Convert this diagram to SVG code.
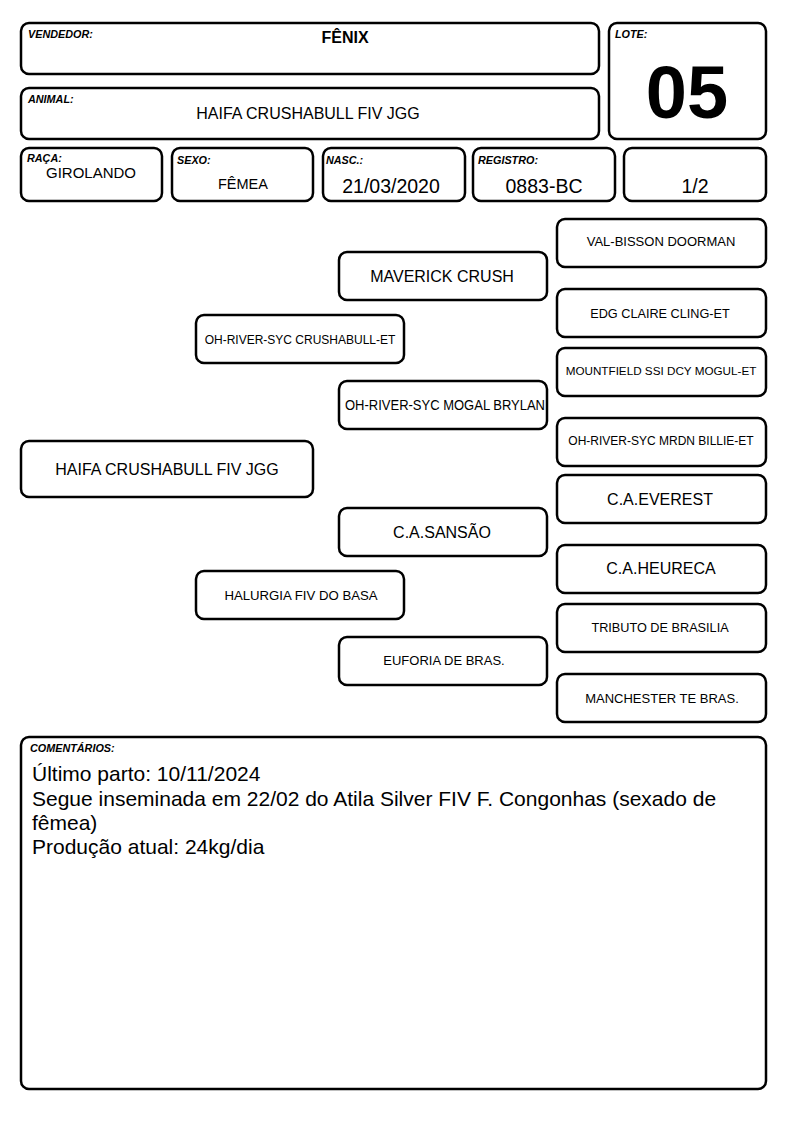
<svg xmlns="http://www.w3.org/2000/svg" width="794" height="1123" viewBox="0 0 794 1123">
<style>
.b{fill:#fff;stroke:#000;stroke-width:2.5}
.lbl{font-family:"Liberation Sans",Arial,sans-serif;font-weight:bold;font-style:italic;font-size:10.8px;fill:#000}
.t{font-family:"Liberation Sans",Arial,sans-serif;fill:#000;text-anchor:middle}
.s12{font-size:12px}.s13{font-size:13px}.s16{font-size:16px}.s19{font-size:19.5px}
.c{font-family:"Liberation Sans",Arial,sans-serif;font-size:21px;fill:#000}
</style>
<rect width="794" height="1123" fill="#fff"/>
<g id="vendedor"><rect class="b" x="21" y="23" width="578" height="51" rx="8"/><text class="lbl" x="28" y="38">VENDEDOR:</text><text class="t" x="345" y="43" font-size="16" font-weight="bold">FÊNIX</text></g>
<g id="animal"><rect class="b" x="21" y="88" width="578" height="51" rx="8"/><text class="lbl" x="28" y="103">ANIMAL:</text><text class="t s16" x="308" y="119">HAIFA CRUSHABULL FIV JGG</text></g>
<g id="lote"><rect class="b" x="609" y="23" width="157" height="116" rx="8"/><text class="lbl" x="615" y="38">LOTE:</text><text class="t" x="687" y="118" font-size="74" font-weight="bold">05</text></g>
<g id="raca"><rect class="b" x="21" y="148" width="141" height="53" rx="8"/><text class="lbl" x="27" y="162">RAÇA:</text><text class="t" x="91" y="178" font-size="15">GIROLANDO</text></g>
<g id="sexo"><rect class="b" x="172" y="148" width="141" height="53" rx="8"/><text class="lbl" x="177" y="164">SEXO:</text><text class="t" x="243" y="189" font-size="14.5">FÊMEA</text></g>
<g id="nasc"><rect class="b" x="323" y="148" width="142" height="53" rx="8"/><text class="lbl" x="326" y="164">NASC.:</text><text class="t s19" x="391" y="193">21/03/2020</text></g>
<g id="registro"><rect class="b" x="473" y="148" width="142" height="53" rx="8"/><text class="lbl" x="478" y="164">REGISTRO:</text><text class="t s19" x="544" y="193">0883-BC</text></g>
<g id="fracao"><rect class="b" x="624" y="148" width="142" height="53" rx="8"/><text class="t s19" x="695" y="193">1/2</text></g>
<g id="connectors"></g>
<g id="p1"><rect class="b" x="557" y="219" width="209" height="48" rx="8"/><text class="t s13" x="661" y="246">VAL-BISSON DOORMAN</text></g>
<g id="p2"><rect class="b" x="339" y="252" width="208" height="48" rx="8"/><text class="t s16" x="442" y="282">MAVERICK CRUSH</text></g>
<g id="p3"><rect class="b" x="557" y="289" width="209" height="48" rx="8"/><text class="t" font-size="12.7" x="660" y="318">EDG CLAIRE CLING-ET</text></g>
<g id="p4"><rect class="b" x="196" y="315" width="208" height="48" rx="8"/><text class="t s12" x="300" y="344">OH-RIVER-SYC CRUSHABULL-ET</text></g>
<g id="p5"><rect class="b" x="557" y="348" width="209" height="48" rx="8"/><text class="t" x="661" y="375" font-size="11.7">MOUNTFIELD SSI DCY MOGUL-ET</text></g>
<g id="p6"><rect class="b" x="339" y="381" width="208" height="48" rx="8"/><text class="t" font-size="14" x="445" y="410" textLength="200" lengthAdjust="spacingAndGlyphs">OH-RIVER-SYC MOGAL BRYLAN</text></g>
<g id="p7"><rect class="b" x="557" y="418" width="209" height="48" rx="8"/><text class="t s12" x="661" y="445">OH-RIVER-SYC MRDN BILLIE-ET</text></g>
<g id="p0"><rect class="b" x="21" y="441" width="292" height="56" rx="8"/><text class="t s16" x="167" y="475">HAIFA CRUSHABULL FIV JGG</text></g>
<g id="p8"><rect class="b" x="557" y="475" width="209" height="48" rx="8"/><text class="t s16" x="660" y="505">C.A.EVEREST</text></g>
<g id="p9"><rect class="b" x="339" y="508" width="208" height="48" rx="8"/><text class="t s16" x="442" y="538">C.A.SANSÃO</text></g>
<g id="p10"><rect class="b" x="557" y="545" width="209" height="48" rx="8"/><text class="t s16" x="661" y="574">C.A.HEURECA</text></g>
<g id="p11"><rect class="b" x="196" y="571" width="208" height="48" rx="8"/><text class="t" font-size="13.2" x="301" y="600">HALURGIA FIV DO BASA</text></g>
<g id="p12"><rect class="b" x="557" y="604" width="209" height="48" rx="8"/><text class="t" font-size="12.7" x="660" y="632">TRIBUTO DE BRASILIA</text></g>
<g id="p13"><rect class="b" x="339" y="637" width="208" height="48" rx="8"/><text class="t s13" x="444" y="665">EUFORIA DE BRAS.</text></g>
<g id="p14"><rect class="b" x="557" y="674" width="209" height="48" rx="8"/><text class="t s13" x="662" y="703">MANCHESTER TE BRAS.</text></g>
<g id="comentarios"><rect class="b" x="21" y="737" width="745" height="352" rx="8"/><text class="lbl" x="30" y="752" font-size="11">COMENTÁRIOS:</text>
<text class="c" x="32" y="781">Último parto: 10/11/2024</text>
<text class="c" x="32" y="806">Segue inseminada em 22/02 do Atila Silver FIV F. Congonhas (sexado de</text>
<text class="c" x="32" y="830">fêmea)</text>
<text class="c" x="32" y="854">Produção atual: 24kg/dia</text></g>
</svg>
